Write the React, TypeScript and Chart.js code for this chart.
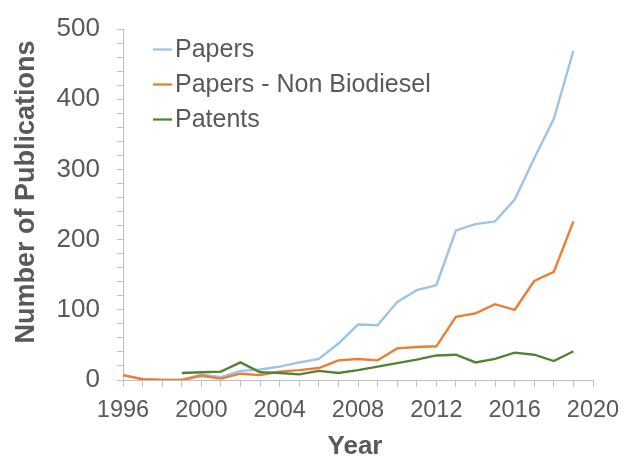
import { useEffect, useRef } from 'react';
import { Chart, registerables } from 'chart.js';

Chart.register(...registerables);

const years = [1996, 1997, 1998, 1999, 2000, 2001, 2002, 2003, 2004, 2005, 2006, 2007, 2008, 2009, 2010, 2011, 2012, 2013, 2014, 2015, 2016, 2017, 2018, 2019];
const papers = [7, 1, 0, 0, 8, 4, 13, 15, 19, 25, 30, 52, 79, 78, 111, 128, 135, 213, 222, 226, 257, 316, 372, 469];
const papersNonBiodiesel = [7, 1, 0, 0, 6, 2, 9, 7, 12, 14, 17, 28, 30, 28, 45, 47, 48, 90, 95, 108, 100, 141, 154, 226];
const patents = [null, null, null, 10, 11, 12, 25, 11, 10, 8, 13, 10, 14, 19, 24, 29, 35, 36, 25, 30, 39, 36, 27, 41];
const seriesLabels = ['Papers', 'Papers - Non Biodiesel', 'Patents'];
const seriesColors = ['#9DC3E6', '#ED7D31', '#548235'];
const xAxisTitle = 'Year';
const yAxisTitle = 'Number of Publications';

const FONT = "'Liberation Sans', Arial, Helvetica, sans-serif";
const TEXT = '#595959';
const AXIS = '#BFBFBF';

const insideLegend = {
  id: 'insideLegend',
  afterDraw(chart: any) {
    const { ctx, chartArea } = chart;
    ctx.save();
    ctx.font = `25px ${FONT}`;
    ctx.fillStyle = TEXT;
    ctx.textBaseline = 'middle';
    ctx.textAlign = 'left';
    chart.data.datasets.forEach((ds: any, i: number) => {
      const y = chartArea.top + 20.5 + i * 35;
      const x = chartArea.left + 30;
      ctx.strokeStyle = ds.borderColor;
      ctx.lineWidth = 2.25;
      ctx.beginPath();
      ctx.moveTo(x, y);
      ctx.lineTo(x + 19, y);
      ctx.stroke();
      ctx.fillText(ds.label, x + 22, y + 1);
    });
    ctx.restore();
  },
};

const axisTitles = {
  id: 'axisTitles',
  afterDraw(chart: any) {
    const { ctx, chartArea } = chart;
    ctx.save();
    ctx.font = `bold 26px ${FONT}`;
    ctx.fillStyle = TEXT;
    ctx.textAlign = 'center';
    ctx.textBaseline = 'alphabetic';
    ctx.fillText(xAxisTitle, (chartArea.left + chartArea.right) / 2 - 3, chartArea.bottom + 74);
    ctx.font = `bold 27px ${FONT}`;
    ctx.translate(chartArea.left - 96, chartArea.top + 163);
    ctx.rotate(-Math.PI / 2);
    ctx.textBaseline = 'middle';
    ctx.fillText(yAxisTitle, 0, 0);
    ctx.restore();
  },
};

export default function App() {
  const ref = useRef<HTMLCanvasElement | null>(null);

  useEffect(() => {
    document.body.style.margin = '0';
    const canvas = ref.current;
    if (!canvas) return;
    const seriesValues = [papers, papersNonBiodiesel, patents];
    const orders = [3, 2, 1];
    const chart = new Chart(canvas, {
      type: 'line',
      data: {
        datasets: seriesValues.map((vals, s) => ({
          label: seriesLabels[s],
          data: years.map((x, i) => ({ x, y: vals[i] })),
          borderColor: seriesColors[s],
          backgroundColor: seriesColors[s],
          borderWidth: 2.4,
          pointRadius: 0,
          pointHoverRadius: 0,
          tension: 0,
          fill: false,
          order: orders[s],
        })),
      },
      options: {
        animation: false,
        responsive: false,
        maintainAspectRatio: false,
        layout: { padding: { left: 0, top: 29, right: 36, bottom: 0 } },
        plugins: {
          legend: { display: false },
          tooltip: { enabled: false },
          title: { display: false },
        },
        scales: {
          x: {
            type: 'linear',
            min: 1996,
            max: 2020,
            ticks: {
              stepSize: 1,
              autoSkip: false,
              maxTicksLimit: 100,
              maxRotation: 0,
              minRotation: 0,
              padding: 9,
              color: TEXT,
              font: { family: FONT, size: 23.5 },
              callback: (v: any) => (Number(v) % 4 === 0 ? String(v) : ''),
            },
            grid: {
              display: true,
              drawOnChartArea: false,
              drawTicks: true,
              tickLength: 7,
              tickColor: AXIS,
              tickWidth: 1,
            },
            border: { display: true, color: AXIS, width: 1 },
            afterFit: (scale: any) => {
              scale.height = 86;
              scale.paddingLeft = 0;
              scale.paddingRight = 0;
            },
          },
          y: {
            type: 'linear',
            min: 0,
            max: 500,
            ticks: {
              stepSize: 20,
              autoSkip: false,
              maxTicksLimit: 100,
              padding: 17,
              color: TEXT,
              font: { family: FONT, size: 26 },
              callback: (v: any) => (Number(v) % 100 === 0 ? String(v) : ''),
            },
            grid: {
              display: true,
              drawOnChartArea: false,
              drawTicks: true,
              tickLength: 6,
              tickColor: AXIS,
              tickWidth: 1,
            },
            border: { display: true, color: AXIS, width: 1 },
            afterFit: (scale: any) => {
              scale.width = 123;
              scale.paddingTop = 0;
              scale.paddingBottom = 0;
            },
          },
        },
      } as any,
      plugins: [insideLegend, axisTitles],
    });
    return () => chart.destroy();
  }, []);

  return (
    <div style={{ width: 629, height: 466, background: '#ffffff' }}>
      <canvas ref={ref} width={629} height={466} style={{ display: 'block' }} />
    </div>
  );
}
